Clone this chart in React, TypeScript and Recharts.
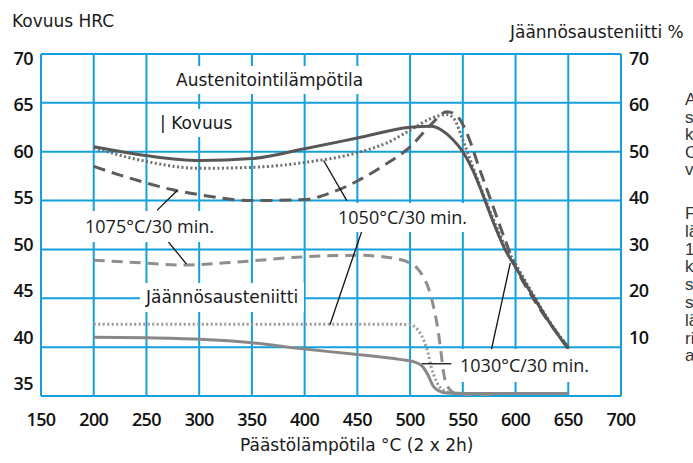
import React from 'react';
import {
  ComposedChart,
  Line,
  XAxis,
  YAxis,
  CartesianGrid,
  ReferenceLine,
} from 'recharts';

// Hardness (HRC) after tempering, per austenitizing temperature
const hrc1030Temp = [200, 250, 300, 350, 400, 450, 500, 520, 530, 540, 550, 560, 570, 580, 590, 600, 615, 630, 650];
const hrc1030 = [60.5, 59.6, 59.1, 59.3, 60.3, 61.4, 62.5, 62.6, 62.2, 61.3, 60.0, 58.0, 55.3, 52.5, 50.0, 48.2, 45.5, 42.9, 39.8];

const hrc1050Temp = [200, 250, 300, 350, 400, 450, 480, 500, 520, 535, 542, 550, 560, 570, 580, 590, 600, 615, 630, 650];
const hrc1050 = [60.4, 59.0, 58.3, 58.4, 58.9, 59.9, 61.0, 62.2, 63.4, 63.8, 63.3, 61.2, 58.3, 55.5, 52.8, 50.4, 48.5, 45.7, 43.0, 40.0];

const hrc1075Temp = [200, 225, 250, 275, 300, 350, 400, 425, 450, 475, 500, 520, 535, 545, 555, 565, 575, 590, 600, 615, 630, 650];
const hrc1075 = [58.5, 57.6, 56.8, 56.1, 55.6, 55.0, 55.1, 55.8, 57.0, 58.6, 60.5, 62.8, 64.1, 63.6, 61.6, 58.5, 55.5, 51.0, 48.2, 45.3, 42.8, 40.0];

// Retained austenite (%)
const ra1030Temp = [200, 250, 300, 350, 400, 450, 490, 505, 512, 517, 522, 528, 535, 550, 600, 650];
const ra1030 = [12.0, 11.9, 11.6, 10.9, 9.6, 8.5, 7.5, 6.9, 6.0, 4.3, 2.0, 1.0, 0.6, 0.5, 0.5, 0.5];

const ra1050Temp = [200, 300, 400, 480, 500, 507, 513, 517, 520, 525, 530, 540, 560, 580];
const ra1050 = [14.7, 14.7, 14.7, 14.7, 14.6, 13.6, 11.4, 8.8, 6.0, 3.0, 1.4, 0.6, 0.5, 0.5];

const ra1075Temp = [200, 250, 284, 340, 400, 450, 487, 500, 507, 513, 517, 522, 526, 529, 532, 536, 545, 560, 585];
const ra1075 = [27.8, 27.2, 26.8, 27.5, 28.5, 28.8, 28.1, 27.2, 26.1, 24.2, 22.3, 18.5, 14.1, 9.5, 4.5, 1.8, 0.3, 0, 0];

const tempTicks = [150, 200, 250, 300, 350, 400, 450, 500, 550, 600, 650, 700];
const hrcTicks = [35, 40, 45, 50, 55, 60, 65, 70];
const raTicks = [10, 20, 30, 40, 50, 60, 70];

const sideNoteA = ['A', 's', 'k', 'C', 'v'];
const sideNoteB = ['F', 'lä', '1', 'k', 's', 's', 'lä', 'ri', 'a'];

const toPoints = (ts: number[], vs: number[]) => ts.map((t, i) => ({ t, v: vs[i] }));

const GRID = '#14a0dc';
const NUM_FONT = '"Open Sans", sans-serif';
const TEXT_FONT = '"DejaVu Sans", sans-serif';

// tick labels sit slightly compressed against the grid
const nudge = (hrc: number) => 4 - (70 - hrc) * 0.48;

const numStyle = {
  fontFamily: NUM_FONT,
  fontSize: 18,
  fontWeight: 600,
  letterSpacing: -0.6,
  fill: '#111',
};

const LeftTick = ({ x, y, payload }: any) => (
  <text x={x} y={y + nudge(payload.value)} textAnchor="end" dominantBaseline="central" style={numStyle}>
    {payload.value}
  </text>
);

const RightTick = ({ x, y, payload }: any) => (
  <text x={x} y={y + nudge(35 + payload.value / 2)} textAnchor="start" dominantBaseline="central" style={numStyle}>
    {payload.value}
  </text>
);

const BottomTick = ({ x, y, payload }: any) => (
  <text x={x} y={y + 15} textAnchor="middle" dominantBaseline="central" style={numStyle}>
    {payload.value}
  </text>
);

const boxLabel = (left: number, top: number, h: number, text: string, font: string, size: number, weight = 400) => (
  <div
    style={{
      position: 'absolute',
      left,
      top,
      height: h,
      lineHeight: `${h}px`,
      padding: '0 6px',
      background: '#fff',
      fontFamily: font,
      fontSize: size,
      fontWeight: weight,
      color: '#1a1a1a',
      whiteSpace: 'nowrap',
    }}
  >
    {text}
  </div>
);

const plainText = (left: number, top: number, text: string, size = 17) => (
  <div
    style={{
      position: 'absolute',
      left,
      top,
      fontFamily: TEXT_FONT,
      fontSize: size,
      lineHeight: '20px',
      color: '#1a1a1a',
      whiteSpace: 'nowrap',
    }}
  >
    {text}
  </div>
);

const leader = { stroke: '#111', strokeWidth: 1.3 };

export default function App() {
  return (
    <div
      style={{
        position: 'absolute',
        left: 0,
        top: 0,
        width: 693,
        height: 463,
        overflow: 'hidden',
        background: '#fff',
      }}
    >
      <ComposedChart width={693} height={463} margin={{ top: 54, right: 32, bottom: 37, left: 0 }}>
        <CartesianGrid stroke={GRID} strokeWidth={2} />
        <XAxis
          type="number"
          dataKey="t"
          domain={[150, 700]}
          ticks={tempTicks}
          allowDataOverflow
          axisLine={false}
          tickLine={false}
          height={30}
          tick={<BottomTick />}
        />
        <YAxis
          type="number"
          domain={[35, 70]}
          ticks={hrcTicks}
          allowDataOverflow
          axisLine={false}
          tickLine={false}
          width={41}
          tick={<LeftTick />}
        />
        <YAxis
          yAxisId="ra"
          orientation="right"
          type="number"
          domain={[0, 70]}
          ticks={raTicks}
          allowDataOverflow
          axisLine={false}
          tickLine={false}
          width={40}
          tick={<RightTick />}
        />

        {/* retained austenite */}
        <Line yAxisId="ra" data={toPoints(ra1075Temp, ra1075)} dataKey="v" type="monotone" stroke="#8f8f8f"
          strokeWidth={3} strokeDasharray="11 7" dot={false} isAnimationActive={false} />
        <Line yAxisId="ra" data={toPoints(ra1050Temp, ra1050)} dataKey="v" type="monotone" stroke="#9a9a9a"
          strokeWidth={3} strokeDasharray="2 2.5" dot={false} isAnimationActive={false} />
        <Line yAxisId="ra" data={toPoints(ra1030Temp, ra1030)} dataKey="v" type="monotone" stroke="#888"
          strokeWidth={3} dot={false} isAnimationActive={false} />

        {/* hardness */}
        <Line data={toPoints(hrc1075Temp, hrc1075)} dataKey="v" type="monotone" stroke="#5c5c5c"
          strokeWidth={3} strokeDasharray="12 7" dot={false} isAnimationActive={false} />
        <Line data={toPoints(hrc1050Temp, hrc1050)} dataKey="v" type="monotone" stroke="#6e6e6e"
          strokeWidth={3} strokeDasharray="2 2.5" dot={false} isAnimationActive={false} />
        <Line data={toPoints(hrc1030Temp, hrc1030)} dataKey="v" type="monotone" stroke="#575757"
          strokeWidth={3} dot={false} isAnimationActive={false} />

        {/* leader lines from the labels to their curves */}
        <ReferenceLine segment={[{ x: 260, y: 54.0 }, { x: 279, y: 56.0 }]} {...leader} />
        <ReferenceLine segment={[{ x: 269, y: 51.0 }, { x: 288, y: 48.5 }]} {...leader} />
        <ReferenceLine segment={[{ x: 440, y: 55.0 }, { x: 418, y: 59.1 }]} {...leader} />
        <ReferenceLine segment={[{ x: 454, y: 51.8 }, { x: 424, y: 42.3 }]} {...leader} />
        <ReferenceLine segment={[{ x: 539, y: 38.3 }, { x: 511, y: 38.3 }]} {...leader} />
        <ReferenceLine segment={[{ x: 577, y: 39.7 }, { x: 595, y: 48.6 }]} {...leader} />
      </ComposedChart>

      {boxLabel(170, 66, 28, 'Austenitointilämpötila', TEXT_FONT, 17)}
      {boxLabel(154, 109, 28, '| Kovuus', TEXT_FONT, 17)}
      {boxLabel(79, 211, 31, '1075°C/30 min.', NUM_FONT, 18, 500)}
      {boxLabel(332, 203, 29, '1050°C/30 min.', NUM_FONT, 18, 500)}
      {boxLabel(140, 283, 29, 'Jäännösausteniitti', TEXT_FONT, 17)}
      {boxLabel(454, 349, 33, '1030°C/30 min.', NUM_FONT, 18, 500)}

      {plainText(12, 11, 'Kovuus HRC')}
      {plainText(510, 22, 'Jäännösausteniitti %')}
      {plainText(240, 435, 'Päästölämpötila °C (2 x 2h)')}

      <div style={{ position: 'absolute', left: 685, top: 91, fontFamily: '"Liberation Sans", sans-serif', fontSize: 17, lineHeight: '17.6px', color: '#333', whiteSpace: 'nowrap' }}>
        {sideNoteA.map((s, i) => <div key={i}>{s}</div>)}
      </div>
      <div style={{ position: 'absolute', left: 685, top: 205, fontFamily: '"Liberation Sans", sans-serif', fontSize: 17, lineHeight: '17.8px', color: '#333', whiteSpace: 'nowrap' }}>
        {sideNoteB.map((s, i) => <div key={i}>{s}</div>)}
      </div>
    </div>
  );
}
